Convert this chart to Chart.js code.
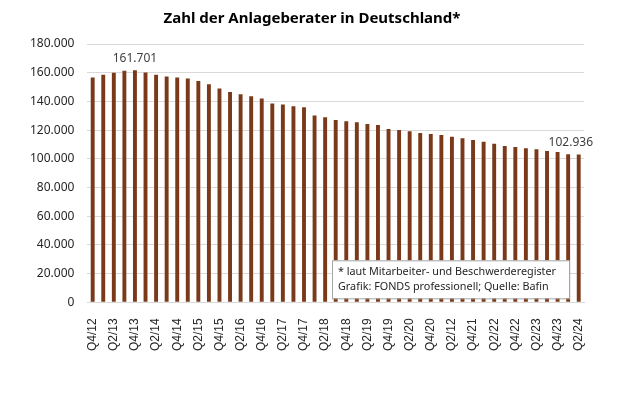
<!DOCTYPE html>
<html>
<head>
<meta charset="utf-8">
<script src="https://cdn.jsdelivr.net/npm/chart.js@4"></script>
<style>
  html, body { margin: 0; padding: 0; background: #fff; }
  #wrap { width: 620px; height: 413px; }
</style>
</head>
<body>
<div id="wrap"><canvas id="myChart" width="620" height="413"></canvas></div>
<script>
// quarters shown on the x axis (the Q2/21 slot is labelled "Q2/12" in the original)
const quarters = [
  "Q4/12",
  "Q1/13", "Q2/13", "Q3/13", "Q4/13",
  "Q1/14", "Q2/14", "Q3/14", "Q4/14",
  "Q1/15", "Q2/15", "Q3/15", "Q4/15",
  "Q1/16", "Q2/16", "Q3/16", "Q4/16",
  "Q1/17", "Q2/17", "Q3/17", "Q4/17",
  "Q1/18", "Q2/18", "Q3/18", "Q4/18",
  "Q1/19", "Q2/19", "Q3/19", "Q4/19",
  "Q1/20", "Q2/20", "Q3/20", "Q4/20",
  "Q1/21", "Q2/12", "Q3/21", "Q4/21",
  "Q1/22", "Q2/22", "Q3/22", "Q4/22",
  "Q1/23", "Q2/23", "Q3/23", "Q4/23",
  "Q1/24", "Q2/24"
];

// number of registered investment advisers
const advisers = [
  156600, 158500, 159900, 161300, 161701, 160100, 158500, 157300, 156600, 155900,
  154300, 152000, 149000, 146600, 145000, 143600, 142000, 138500, 137800, 136600,
  135900, 130100, 128900, 127100, 126200, 125500, 124300, 123600, 120800, 120100,
  119200, 118000, 117300, 116600, 115400, 114300, 113100, 111900, 110500, 108900,
  108200, 107300, 106600, 105400, 104700, 103100, 102936
];

// bars that carry a value label
const labelledBars = [4, 46];

const yTicks = { min: 0, max: 180000, step: 20000 };

const titleText = "Zahl der Anlageberater in Deutschland*";

const noteLines = [
  "* laut Mitarbeiter- und Beschwerderegister",
  "Grafik: FONDS professionell; Quelle: Bafin"
];

const fmt = (v) => String(v).replace(/\B(?=(\d{3})+(?!\d))/g, ".");

const FONT = "'Noto Sans', 'Open Sans', sans-serif";

// title, centred a little right of the canvas middle like the original
const chartTitle = {
  id: "chartTitle",
  afterDraw(chart) {
    const ctx = chart.ctx;
    ctx.save();
    ctx.font = "bold 15px " + FONT;
    ctx.fillStyle = "#000";
    ctx.textAlign = "center";
    ctx.textBaseline = "middle";
    ctx.fillText(titleText, chart.width / 2 + 2, 19);
    ctx.restore();
  }
};

// value labels above selected bars, kept inside the right edge
const valueLabels = {
  id: "valueLabels",
  afterDatasetsDraw(chart) {
    const ctx = chart.ctx;
    const meta = chart.getDatasetMeta(0);
    const area = chart.chartArea;
    ctx.save();
    ctx.font = "12px " + FONT;
    ctx.fillStyle = "#404040";
    ctx.textAlign = "center";
    ctx.textBaseline = "bottom";
    labelledBars.forEach((i) => {
      const bar = meta.data[i];
      const txt = fmt(advisers[i]);
      const w = ctx.measureText(txt).width;
      let x = bar.x;
      if (x + w / 2 > area.right + 9) x = area.right + 9 - w / 2;
      ctx.fillText(txt, x, bar.y - 6);
    });
    ctx.restore();
  }
};

// source note box in the lower right of the plot
const noteBox = {
  id: "noteBox",
  afterDraw(chart) {
    const ctx = chart.ctx;
    const area = chart.chartArea;
    const x = area.right - 252, y = area.bottom - 42, w = 237, h = 38;
    ctx.save();
    ctx.fillStyle = "#fff";
    ctx.fillRect(x, y, w, h);
    ctx.strokeStyle = "#a6a6a6";
    ctx.lineWidth = 1;
    ctx.strokeRect(x + 0.5, y + 0.5, w, h);
    ctx.fillStyle = "#262626";
    ctx.font = "10.8px " + FONT;
    ctx.textBaseline = "middle";
    ctx.fillText(noteLines[0], x + 6, y + 11.5);
    ctx.fillText(noteLines[1], x + 6, y + 27);
    ctx.restore();
  }
};

new Chart(document.getElementById("myChart"), {
  type: "bar",
  data: {
    labels: quarters,
    datasets: [{
      data: advisers,
      backgroundColor: "#7a3a1a",
      barPercentage: 0.37,
      categoryPercentage: 1
    }]
  },
  options: {
    responsive: false,
    animation: false,
    devicePixelRatio: 1,
    layout: { padding: { left: 17, right: 36, top: 44, bottom: 54 } },
    plugins: {
      legend: { display: false },
      tooltip: { enabled: false },
      title: { display: false }
    },
    scales: {
      x: {
        grid: { display: false },
        border: { color: "#d9d9d9" },
        ticks: {
          autoSkip: false,
          maxRotation: 90,
          minRotation: 90,
          padding: 8,
          color: "#262626",
          font: { family: "'Liberation Sans', Arial, sans-serif", size: 12 },
          callback: (v, i) => (i % 2 === 0 ? quarters[i] : "")
        }
      },
      y: {
        min: yTicks.min,
        max: yTicks.max,
        border: { display: false },
        grid: { color: "#d9d9d9", drawTicks: false },
        ticks: {
          stepSize: yTicks.step,
          padding: 13,
          color: "#262626",
          font: { family: FONT, size: 12 },
          callback: (v) => fmt(v)
        }
      }
    }
  },
  plugins: [chartTitle, valueLabels, noteBox]
});
</script>
</body>
</html>
